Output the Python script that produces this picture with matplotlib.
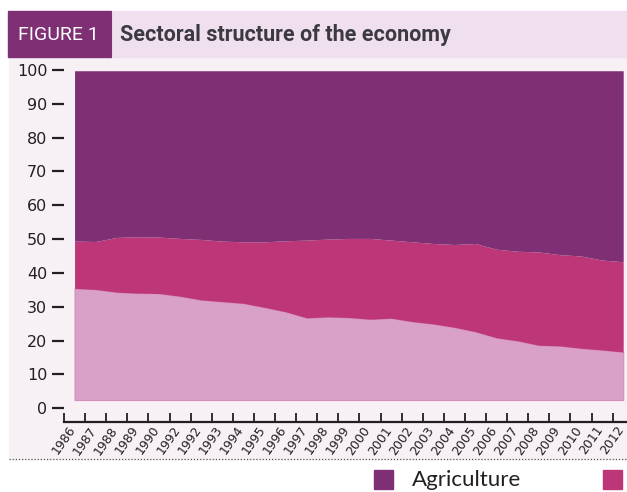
import matplotlib.pyplot as plt
import numpy as np
from matplotlib.patches import Rectangle
from matplotlib.lines import Line2D
import matplotlib.transforms as mtransforms

years = np.arange(1986, 2013)
year_labels = ['1986', '1987', '1988', '1989', '1990', '1992', '1992', '1993', '1994',
               '1995', '1996', '1997', '1998', '1999', '2000', '2001', '2002', '2003',
               '2004', '2005', '2006', '2007', '2008', '2009', '2010', '2011', '2012']

# stacked levels as plotted (bottom band starts a little above zero)
base = 2.4
services_top = [35.4, 35.1, 34.3, 34.0, 33.9, 33.1, 32.0, 31.5, 31.0, 29.8, 28.5, 26.7, 27.0,
                26.8, 26.3, 26.6, 25.6, 24.9, 23.9, 22.6, 20.8, 19.9, 18.6, 18.4, 17.7, 17.2, 16.6]
industry_top = [49.4, 49.3, 50.5, 50.7, 50.6, 50.2, 49.9, 49.4, 49.2, 49.2, 49.5, 49.7, 50.0,
                50.2, 50.2, 49.7, 49.2, 48.7, 48.4, 48.7, 47.0, 46.4, 46.2, 45.4, 45.0, 43.8, 43.3]
agriculture_top = [99.8] * len(years)

c_agri = '#7f3074'
c_ind = '#bd3778'
c_serv = '#d9a1c8'
panel_bg = '#f7f0f5'

W, H = 627, 492
fig = plt.figure(figsize=(W / 100, H / 100), dpi=100)
fig.patch.set_facecolor('white')

def box(x0, y0, w, h, col):
    # rectangle given in pixels from the top-left corner
    fig.patches.append(Rectangle((x0 / W, 1 - (y0 + h) / H), w / W, h / H,
                                 transform=fig.transFigure, color=col, zorder=-1))

# panel background and title band
box(9, 57, 618, 402, panel_bg)
box(8, 11, 103, 46, c_agri)
box(113, 11, 514, 46, '#f0dfee')
fig.text(18 / W, 1 - 35 / H, 'FIGURE 1', color='white', fontsize=14,
         family=['Roboto', 'DejaVu Sans'], va='center', ha='left')
fig.text(120 / W, 1 - 35 / H, 'Sectoral structure of the economy', color='#3b3a40',
         fontsize=15.5, fontweight='bold', family=['Roboto', 'DejaVu Sans'],
         va='center', ha='left')

# dotted separator and legend
fig.add_artist(Line2D([9 / W, 1], [1 - 459 / H, 1 - 459 / H], transform=fig.transFigure,
                      color='#555555', lw=0.9, linestyle=(0, (1, 1.5))))
box(374, 470, 19, 19, c_agri)
box(603, 470, 19, 19, c_ind)
fig.text(412 / W, 1 - 480 / H, 'Agriculture', fontsize=16, color='#231f20',
         family=['Lato', 'DejaVu Sans'], va='center', ha='left')

ax = fig.add_axes([64 / W, 70 / H, 563 / W, 356 / H])
ax.set_facecolor(panel_bg)

ax.fill_between(years, base, services_top, color=c_serv, ec='#d68cbd', lw=0.8)
ax.fill_between(years, services_top, industry_top, color=c_ind, lw=0)
ax.fill_between(years, industry_top, agriculture_top, color=c_agri, lw=0)

ax.set_xlim(1985.53, 2012.18)
ax.set_ylim(-4.1, 101.2)

for s in ['left', 'top', 'right']:
    ax.spines[s].set_visible(False)
ax.spines['bottom'].set_color('#231f20')
ax.spines['bottom'].set_linewidth(1.6)

ax.set_yticks(np.arange(0, 101, 10))
ax.tick_params(axis='y', length=9, width=1.6, color='#231f20', pad=3,
               labelsize=11.5, labelcolor='#231f20')

# tick marks between years, labels on the years
ax.set_xticks(np.arange(1985.5, 2012, 1.0))
ax.set_xticklabels([])
ax.tick_params(axis='x', which='major', direction='in', length=6.5, width=1.3,
               color='#231f20')
ax.set_xticks(years, minor=True)
ax.set_xticklabels(year_labels, minor=True, rotation=55, ha='right', va='center',
                   rotation_mode='anchor', fontsize=9, color='#231f20')
ax.tick_params(axis='x', which='minor', length=0, pad=4)
shift = mtransforms.ScaledTranslation(-2 / 100, 0, fig.dpi_scale_trans)
for lbl in ax.get_xticklabels(minor=True):
    lbl.set_transform(lbl.get_transform() + shift)

fig.savefig('out.png', dpi=100)
